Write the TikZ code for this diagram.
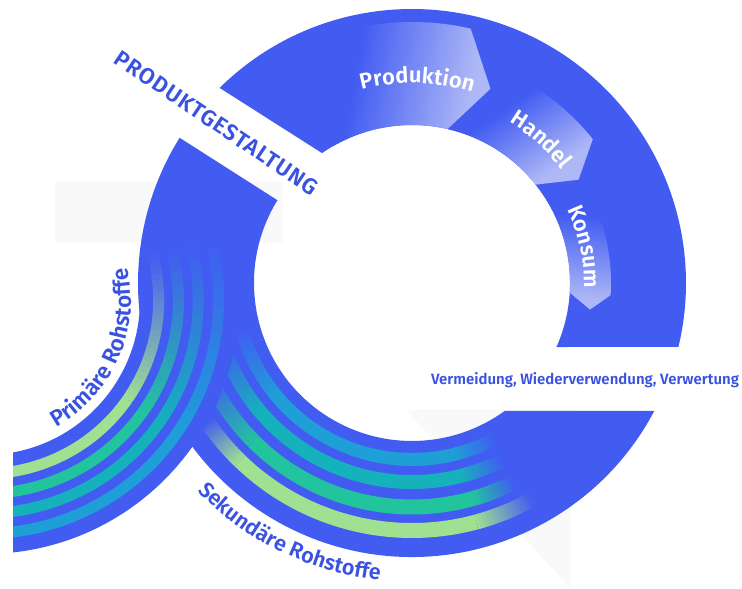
\documentclass[tikz,border=0pt]{standalone}
\usepackage{fontspec}
\setmainfont{Fira Sans}[BoldFont={Fira Sans SemiBold}]
\usetikzlibrary{calc,decorations.text}
\definecolor{ringblue}{RGB}{66,92,242}
\definecolor{txtblue}{RGB}{58,82,224}
\definecolor{lgreen}{RGB}{160,225,145}
\definecolor{sgreen}{RGB}{34,196,158}
\definecolor{steal}{RGB}{22,178,188}
\definecolor{scyan}{RGB}{30,160,215}
\definecolor{arrowlight}{RGB}{174,184,246}
\definecolor{bggray}{RGB}{249,249,249}
\pgfdeclarehorizontalshading{arrowshade}{100bp}{color(0bp)=(ringblue); color(25bp)=(ringblue); color(42bp)=(ringblue); color(72bp)=(arrowlight); color(100bp)=(arrowlight)}
\newcommand{\arrowfont}{\fontsize{22}{22}\selectfont\bfseries}
\newcommand{\primfont}{\fontsize{22.5}{22.5}\selectfont\bfseries}
\newcommand{\sekfont}{\fontsize{21.5}{21.5}\selectfont\bfseries}
\newcommand{\capfont}{\fontsize{22.5}{22.5}\selectfont\bfseries\addfontfeature{LetterSpace=4}}
\newcommand{\vfont}{\fontsize{15}{15}\selectfont\bfseries}
\newcommand{\fadearc}[6]{%
  \foreach \k in {0,...,23}{%
    \pgfmathsetmacro{\fdA}{#5+(#6-#5)*\k/24}%
    \pgfmathsetmacro{\fdB}{#5+(#6-#5)*(\k+1.5)/24}%
    \pgfmathtruncatemacro{\fdP}{100-100*(\k+0.5)/24}%
    \draw[line width=#3, color=#4!\fdP!ringblue] ($(#1)+(\fdA:#2)$) arc[start angle=\fdA, end angle=\fdB, radius=#2];
  }}
\begin{document}
\begin{tikzpicture}[x=1pt,y=1pt]
\useasboundingbox (0,0) rectangle (742,589);
\coordinate (C) at (412,306);
\coordinate (P) at (-15,289);
% faint background shapes
\fill[bggray] (55,347) rectangle (283,407);
\fill[bggray] (406,179) -- (571,179) -- (571,0) -- cycle;
% ring pieces
\fill[ringblue] ($(C)+(134.6:274)$) arc[start angle=134.6, end angle=-13.5, radius=274]
  -- ($(C)+(-23.9:158)$) arc[start angle=-23.9, end angle=124.7, radius=158] -- cycle;
\fill[ringblue] ($(C)+(-27.8:274)$) arc[start angle=-27.8, end angle=-212, radius=274]
  -- ($(C)+(-211.6:158)$) arc[start angle=-211.6, end angle=-54.1, radius=158] -- cycle;
% secondary stripes
\foreach \r/\w/\c/\sa/\sb/\fr/\fl in {176.5/13pt/scyan/-76/-140/-62/-165, 199/14pt/steal/-76/-140/-63/-162, 224/15pt/sgreen/-74/-135/-63/-155, 247.5/15pt/lgreen/-75/-134/-61/-146}{
  \draw[line width=\w, \c] ($(C)+(\sa:\r)$) arc[start angle=\sa, end angle=\sb, radius=\r];
  \fadearc{C}{\r}{\w}{\c}{\sa}{\fr}
  \fadearc{C}{\r}{\w}{\c}{\sb}{\fl}
}
% primary stream band and stripes
\begin{scope}
\clip (13,0) rectangle (742,589);
\fill[ringblue] ($(P)+(-88:155)$) arc[start angle=-88, end angle=0, radius=155]
  -- ($(P)+(0:254)$) arc[start angle=0, end angle=-88, radius=254] -- cycle;
\foreach \r/\c in {173.7/lgreen, 193.5/sgreen, 213.3/steal, 233.6/scyan}{
  \draw[line width=10.9pt, \c] ($(P)+(-88:\r)$) arc[start angle=-88, end angle=-35, radius=\r];
  \fadearc{P}{\r}{10.9pt}{\c}{-35}{15}
}
\end{scope}
% arrows
\shade[shading=arrowshade, shading angle=-95]
  ($(C)+(36:199)$) arc[start angle=36, end angle=-3.5, radius=199] -- ($(C)+(-8.5:180)$)
  -- ($(C)+(-3.5:158)$) arc[start angle=-3.5, end angle=39, radius=158] -- ($(C)+(31.8:196)$) -- cycle;
\shade[shading=arrowshade, shading angle=-55]
  ($(C)+(71.8:231)$) arc[start angle=71.8, end angle=38.5, radius=231] -- ($(C)+(31.8:196)$)
  -- ($(C)+(38.5:158)$) arc[start angle=38.5, end angle=77, radius=158] -- ($(C)+(68:209.5)$) -- cycle;
\shade[shading=arrowshade, shading angle=-10]
  ($(C)+(120:261)$) arc[start angle=120, end angle=77, radius=261] -- ($(C)+(68:209.5)$)
  -- ($(C)+(77:158)$) arc[start angle=77, end angle=120, radius=158] -- cycle;
% curved labels
\path[decorate, decoration={text along path, text={|\arrowfont|Produktion}, text align=center, text color=white}]
  ($(C)+(118.5:200)$) arc[start angle=118.5, end angle=58.5, radius=200];
\path[decorate, decoration={text along path, text={|\arrowfont|Handel}, text align=center, text color=white}]
  ($(C)+(78:188)$) arc[start angle=78, end angle=18, radius=188];
\path[decorate, decoration={text along path, text={|\arrowfont|Konsum}, text align=center, text color=white}]
  ($(C)+(41.9:172)$) arc[start angle=41.9, end angle=-18.1, radius=172];
\path[decorate, decoration={text along path, text={|\primfont|Primäre Rohstoffe}, text align=center, text color=txtblue}]
  ($(P)+(-86:146)$) arc[start angle=-86, end angle=38, radius=146];
\path[decorate, decoration={text along path, text={|\sekfont|Sekundäre Rohstoffe}, text align=center, text color=txtblue}]
  ($(C)+(-176:299)$) arc[start angle=-176, end angle=-56, radius=299];
% straight labels
\node[rotate=-34, text=txtblue, font=\capfont] (pg) at (216.5,466) {PRODUKTGESTALTUNG};
\node[text=txtblue, font=\vfont] (vw) at (585,209) {Vermeidung, Wiederverwendung, Verwertung};
\end{tikzpicture}
\end{document}
